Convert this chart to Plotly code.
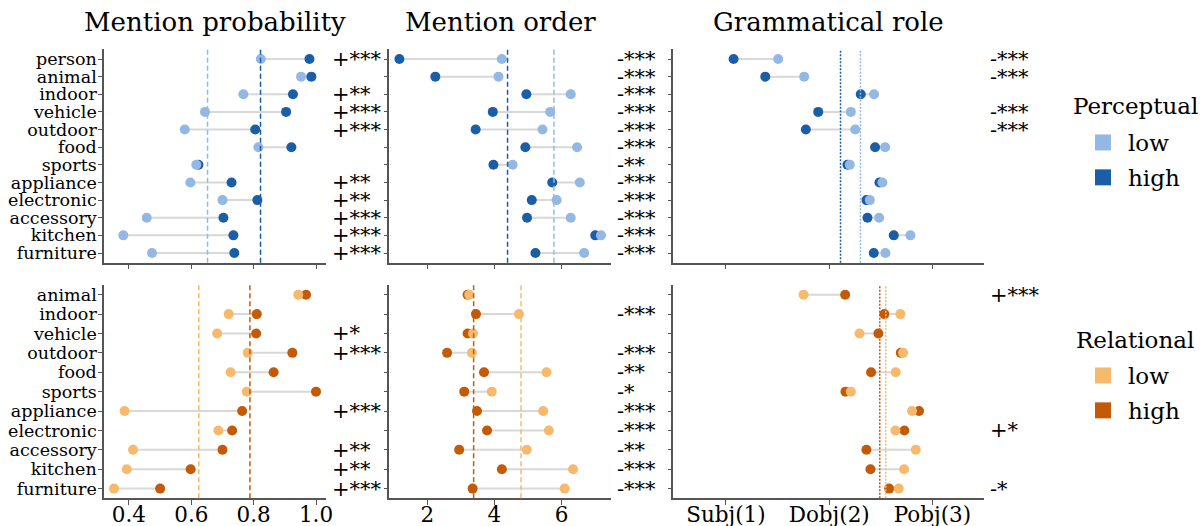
import plotly.graph_objects as go

FONT = "DejaVu Serif"

cats_top = ["person", "animal", "indoor", "vehicle", "outdoor", "food", "sports",
            "appliance", "electronic", "accessory", "kitchen", "furniture"]
cats_bot = cats_top[1:]

# ---- Perceptual (top row) ----
perc_prob_low  = [0.823, 0.952, 0.767, 0.644, 0.579, 0.815, 0.616, 0.597, 0.700, 0.457, 0.382, 0.474]
perc_prob_high = [0.979, 0.985, 0.926, 0.904, 0.805, 0.921, 0.623, 0.729, 0.812, 0.703, 0.735, 0.738]
perc_prob_mean = [0.652, 0.822]   # low, high
perc_prob_sig  = ["+***", "", "+**", "+***", "+***", "", "", "+**", "+**", "+***", "+***", "+***"]

perc_order_low  = [4.22, 4.12, 6.27, 5.66, 5.43, 6.46, 4.54, 6.54, 5.85, 6.27, 7.17, 6.67]
perc_order_high = [1.17, 2.24, 4.95, 3.95, 3.44, 4.92, 3.97, 5.72, 5.11, 4.97, 7.00, 5.22]
perc_order_mean = [5.77, 4.39]
perc_order_sig  = ["-***", "-***", "-***", "-***", "-***", "-***", "-**", "-***", "-***", "-***", "-***", "-***"]

perc_role_low  = [1.506, 1.758, 2.435, 2.210, 2.252, 2.542, 2.200, 2.516, 2.394, 2.484, 2.787, 2.545]
perc_role_high = [1.074, 1.381, 2.306, 1.894, 1.774, 2.445, 2.177, 2.487, 2.361, 2.371, 2.626, 2.432]
perc_role_mean = [2.303, 2.110]
perc_role_sig  = ["-***", "-***", "", "-***", "-***", "", "", "", "", "", "", ""]

# ---- Relational (bottom row) ----
rel_prob_low  = [0.943, 0.720, 0.683, 0.781, 0.726, 0.778, 0.386, 0.687, 0.413, 0.393, 0.352]
rel_prob_high = [0.968, 0.810, 0.808, 0.924, 0.864, 1.000, 0.763, 0.731, 0.700, 0.598, 0.500]
rel_prob_mean = [0.624, 0.788]
rel_prob_sig  = ["", "", "+*", "+***", "", "", "+***", "", "+**", "+**", "+***"]

rel_order_low  = [3.25, 4.73, 3.36, 3.33, 5.55, 3.92, 5.45, 5.62, 4.96, 6.34, 6.09]
rel_order_high = [3.20, 3.45, 3.20, 2.59, 3.69, 3.10, 3.48, 3.78, 2.95, 4.22, 3.35]
rel_order_mean = [4.79, 3.38]
rel_order_sig  = ["", "-***", "", "-***", "-**", "-*", "-***", "-***", "-**", "-***", "-***"]

rel_role_low  = [1.752, 2.690, 2.294, 2.716, 2.645, 2.210, 2.803, 2.642, 2.839, 2.726, 2.674]
rel_role_high = [2.155, 2.535, 2.477, 2.694, 2.406, 2.158, 2.871, 2.729, 2.361, 2.400, 2.581]
rel_role_mean = [2.548, 2.490]
rel_role_sig  = ["+***", "", "", "", "", "", "", "+*", "", "", "-*"]

titles = ["Mention probability", "Mention order", "Grammatical role"]
x_tickvals = [[0.4, 0.6, 0.8, 1.0], [2, 4, 6], [1, 2, 3]]
x_ticktext = [["0.4", "0.6", "0.8", "1.0"], ["2", "4", "6"], ["Subj(1)", "Dobj(2)", "Pobj(3)"]]
x_ranges = [[0.32, 1.032], [0.87, 7.46], [0.49, 3.5]]
legend_titles = ["Perceptual", "Relational"]
legend_names = ["low", "high"]

PERC_LOW, PERC_HIGH = "#93b8e4", "#1b5ea8"
REL_LOW, REL_HIGH = "#f7b96c", "#c45a05"
GREY_LINE = "#d8d8d8"
AXIS_COL = "#555555"

x_domains = [[104/1200, 326/1200], [389.3/1200, 610.7/1200], [673.3/1200, 984/1200]]
y_domains = [[1 - 262.7/526, 1 - 49.3/526], [1 - 498.3/526, 1 - 285/526]]

rows = [
    dict(cats=cats_top, low_c=PERC_LOW, high_c=PERC_HIGH, panels=[
        (perc_prob_low, perc_prob_high, perc_prob_mean, perc_prob_sig, "dash"),
        (perc_order_low, perc_order_high, perc_order_mean, perc_order_sig, "dash"),
        (perc_role_low, perc_role_high, perc_role_mean, perc_role_sig, "dot"),
    ]),
    dict(cats=cats_bot, low_c=REL_LOW, high_c=REL_HIGH, panels=[
        (rel_prob_low, rel_prob_high, rel_prob_mean, rel_prob_sig, "dash"),
        (rel_order_low, rel_order_high, rel_order_mean, rel_order_sig, "dash"),
        (rel_role_low, rel_role_high, rel_role_mean, rel_role_sig, "dot"),
    ]),
]

fig = go.Figure()
layout = dict(width=1200, height=526, margin=dict(l=0, r=0, t=0, b=0, autoexpand=False),
              paper_bgcolor="white", plot_bgcolor="white",
              font=dict(family=FONT, color="black"), showlegend=True)
shapes, annotations = [], []

for r, row in enumerate(rows):
    cats = row["cats"]
    n = len(cats)
    for c, (lo, hi, mean, sig, dash) in enumerate(row["panels"]):
        idx = r * 3 + c + 1
        xa = "x" if idx == 1 else f"x{idx}"
        ya = "y" if idx == 1 else f"y{idx}"
        lx, ly = [], []
        for cat, a, b in zip(cats, lo, hi):
            lx += [a, b, None]
            ly += [cat, cat, None]
        fig.add_trace(go.Scatter(x=lx, y=ly, mode="lines", line=dict(color=GREY_LINE, width=2),
                                 xaxis=xa, yaxis=ya, showlegend=False, hoverinfo="skip"))
        fig.add_trace(go.Scatter(x=hi, y=cats, mode="markers",
                                 marker=dict(color=row["high_c"], size=10, line=dict(width=0)),
                                 xaxis=xa, yaxis=ya, showlegend=False))
        fig.add_trace(go.Scatter(x=lo, y=cats, mode="markers",
                                 marker=dict(color=row["low_c"], size=10, line=dict(width=0)),
                                 xaxis=xa, yaxis=ya, showlegend=False))
        for val, col in zip(mean, [row["low_c"], row["high_c"]]):
            shapes.append(dict(type="line", xref=xa, yref=f"{ya} domain", x0=val, x1=val, y0=0, y1=1,
                               line=dict(color=col, width=1.5,
                                         dash="5px,3px" if dash == "dash" else "2px,1.5px")))
        for i, s in enumerate(sig):
            if s:
                annotations.append(dict(text=s, xref=f"{xa} domain", yref=ya, x=1, y=i,
                                        xanchor="left", yanchor="middle", xshift=4, showarrow=False,
                                        font=dict(family=FONT, size=21, color="black")))
        layout["xaxis" if idx == 1 else f"xaxis{idx}"] = dict(
            domain=x_domains[c], anchor=ya, range=x_ranges[c],
            tickvals=x_tickvals[c], ticktext=x_ticktext[c], showticklabels=(r == 1),
            ticks="outside", ticklen=5, tickwidth=1.2, tickcolor=AXIS_COL, automargin=False,
            ticklabelstandoff=-9,
            showline=True, linecolor=AXIS_COL, linewidth=1.5, showgrid=False, zeroline=False,
            tickfont=dict(family=FONT, size=21.5, color="black"))
        layout["yaxis" if idx == 1 else f"yaxis{idx}"] = dict(
            domain=y_domains[r], anchor=xa, type="category", categoryorder="array",
            categoryarray=cats, range=[n - 1 + 0.05 * (n - 1), -0.05 * (n - 1)], autorange=False,
            tickmode="array", tickvals=cats, ticktext=cats, automargin=False,
            showticklabels=(c == 0), ticks="outside", ticklen=4, tickwidth=1.2, tickcolor=AXIS_COL,
            ticklabelstandoff=-2,
            showline=True, linecolor=AXIS_COL, linewidth=1.5, showgrid=False, zeroline=False,
            tickfont=dict(family=FONT, size=17.5, color="black"))

for c, t in enumerate(titles):
    annotations.append(dict(text=t, xref="paper", yref="paper", x=sum(x_domains[c]) / 2, y=1 - 22/526,
                            xanchor="center", yanchor="middle", showarrow=False,
                            font=dict(family=FONT, size=26, color="black")))

row_cols = [(PERC_LOW, PERC_HIGH), (REL_LOW, REL_HIGH)]
for k, leg in enumerate(["legend", "legend2"]):
    for name, col in zip(legend_names, row_cols[k]):
        fig.add_trace(go.Scatter(x=[None], y=[None], mode="markers", name=name,
                                 marker=dict(symbol="square", size=16, color=col),
                                 legend=leg, legendgroup=leg + name, showlegend=True))

leg_common = dict(xanchor="left", yanchor="top", bgcolor="rgba(0,0,0,0)", itemwidth=40,
                  font=dict(family=FONT, size=23, color="black"), tracegroupgap=2)
layout["legend"] = dict(x=1078/1200, y=1 - 121/526, **leg_common)
layout["legend2"] = dict(x=1078/1200, y=1 - 354/526, **leg_common)
for k, (t, yc) in enumerate(zip(legend_titles, [106, 340])):
    annotations.append(dict(text=t, xref="paper", yref="paper", x=1135/1200, y=1 - yc/526,
                            xanchor="center", yanchor="middle", showarrow=False,
                            font=dict(family=FONT, size=23, color="black")))
layout["shapes"] = shapes
layout["annotations"] = annotations
fig.update_layout(**layout)
fig.write_html("out.html")
